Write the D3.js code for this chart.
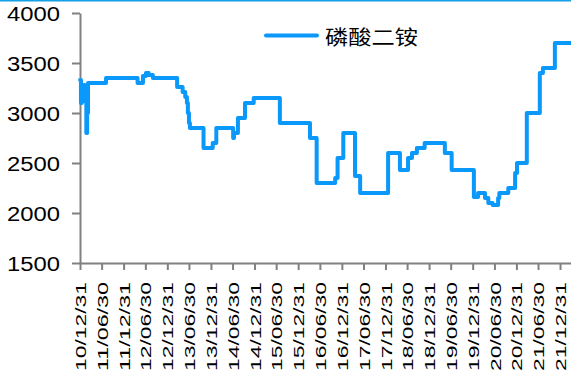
<!DOCTYPE html>
<html>
<head>
<meta charset="utf-8">
<script src="https://cdn.jsdelivr.net/npm/d3@7"></script>
<style>
  html, body { margin: 0; padding: 0; background: #fff; }
  svg { display: block; }
</style>
</head>
<body>
<div id="chart"></div>
<script>
// ---- data ----
const seriesName = "磷酸二铵";
const dates = [
  "2011-01-01","2011-01-08","2011-01-15","2011-01-24","2011-02-01","2011-02-10","2011-02-16",
  "2011-02-22","2011-03-01","2011-03-08","2011-08-06","2012-04-26","2012-06-10","2012-07-05",
  "2012-07-28","2012-09-01","2013-03-23","2013-05-08","2013-05-30","2013-06-13","2013-06-21",
  "2013-06-30","2013-07-08","2013-10-30","2014-01-15","2014-02-14","2014-07-05","2014-07-12",
  "2014-08-14","2014-10-12","2014-12-24","2015-07-31","2016-04-08","2016-06-03","2016-11-05",
  "2016-11-25","2017-01-12","2017-04-20","2017-06-02","2018-01-22","2018-05-01","2018-07-08",
  "2018-08-10","2018-09-20","2018-11-24","2019-05-12","2019-07-08","2020-01-10","2020-02-14",
  "2020-04-12","2020-05-10","2020-06-15","2020-07-31","2020-08-10","2020-10-24","2020-12-20",
  "2021-01-05","2021-03-28","2021-07-15","2021-08-10","2021-11-18","2022-04-30"
];
const values = [
  3330,3100,3250,3120,3280,3180,3270,
  2800,3000,3300,3350,3300,3370,3400,
  3380,3350,3260,3210,3160,3100,3000,
  2900,2850,2650,2700,2850,2750,2800,
  2950,3100,3150,2900,2750,2300,2350,
  2550,2800,2370,2200,2600,2430,2550,
  2600,2650,2700,2600,2430,2160,2200,
  2150,2100,2080,2150,2200,2250,2400,
  2500,3000,3400,3450,3700,3700
];
const xTickLabels = [
  "10/12/31","11/06/30","11/12/31","12/06/30","12/12/31","13/06/30","13/12/31","14/06/30",
  "14/12/31","15/06/30","15/12/31","16/06/30","16/12/31","17/06/30","17/12/31","18/06/30",
  "18/12/31","19/06/30","19/12/31","20/06/30","20/12/31","21/06/30","21/12/31"
];
const yTickValues = [1500, 2000, 2500, 3000, 3500, 4000];

// ---- layout ----
const W = 571, H = 376;
const svg = d3.select("#chart").append("svg").attr("width", W).attr("height", H);

const parse = d3.utcParse("%Y-%m-%d");
const parseTick = d3.utcParse("%y/%m/%d");
const data = dates.map((d, i) => ({ date: parse(d), value: values[i] }));
const tickDates = xTickLabels.map(parseTick);

const x = d3.scaleUtc()
  .domain([parse("2010-12-31"), parse("2022-04-02")])
  .range([80, 571]);
const y = d3.scaleLinear().domain([1500, 4000]).range([263, 13]);

// top border
svg.append("line").attr("x1", 0).attr("x2", W).attr("y1", 0.5).attr("y2", 0.5)
  .attr("stroke", "#13a0e6").attr("stroke-width", 2);

// y axis
const yAxis = svg.append("g").attr("transform", "translate(80,0)")
  .call(d3.axisLeft(y).tickValues(yTickValues).tickFormat(d3.format("d"))
    .tickSize(8).tickSizeOuter(0).tickPadding(12));
yAxis.select(".domain").attr("stroke", "#808080").attr("stroke-width", 2);
yAxis.selectAll(".tick line").attr("stroke", "#808080").attr("stroke-width", 2);
yAxis.selectAll(".tick text")
  .attr("fill", "#000")
  .style("font-family", "'Liberation Sans', Arial, sans-serif")
  .style("font-size", "20px")
  .attr("textLength", 53).attr("lengthAdjust", "spacingAndGlyphs")
  .attr("dy", "0.36em");

// x axis
const xAxis = svg.append("g").attr("transform", "translate(0,263)")
  .call(d3.axisBottom(x).tickValues(tickDates).tickSize(7).tickSizeOuter(0)
    .tickFormat((d, i) => xTickLabels[i]));
xAxis.select(".domain").attr("stroke", "#808080").attr("stroke-width", 2);
xAxis.selectAll(".tick line").attr("stroke", "#808080").attr("stroke-width", 2);
xAxis.selectAll(".tick text")
  .attr("fill", "#000")
  .style("font-family", "'Liberation Sans', Arial, sans-serif")
  .style("font-size", "15.5px")
  .attr("text-anchor", "end")
  .attr("transform", "rotate(-90)")
  .attr("x", -19).attr("y", 0).attr("dy", "0.36em")
  .attr("textLength", 89).attr("lengthAdjust", "spacingAndGlyphs");

// line
const line = d3.line().curve(d3.curveStepAfter)
  .x(d => x(d.date)).y(d => y(d.value));
svg.append("path").datum(data)
  .attr("d", line)
  .attr("fill", "none")
  .attr("stroke", "#0a98fa")
  .attr("stroke-width", 4)
  .attr("stroke-linejoin", "round")
  .attr("stroke-linecap", "round");

// legend
svg.append("line").attr("x1", 266).attr("x2", 317).attr("y1", 35.5).attr("y2", 35.5)
  .attr("stroke", "#0a98fa").attr("stroke-width", 4).attr("stroke-linecap", "round");
svg.append("text").attr("x", 325).attr("y", 36)
  .attr("dominant-baseline", "central")
  .style("font-family", "'Noto Sans CJK SC', sans-serif")
  .style("font-size", "20px")
  .attr("fill", "#000")
  .attr("textLength", 93).attr("lengthAdjust", "spacingAndGlyphs")
  .text(seriesName);
</script>
</body>
</html>
